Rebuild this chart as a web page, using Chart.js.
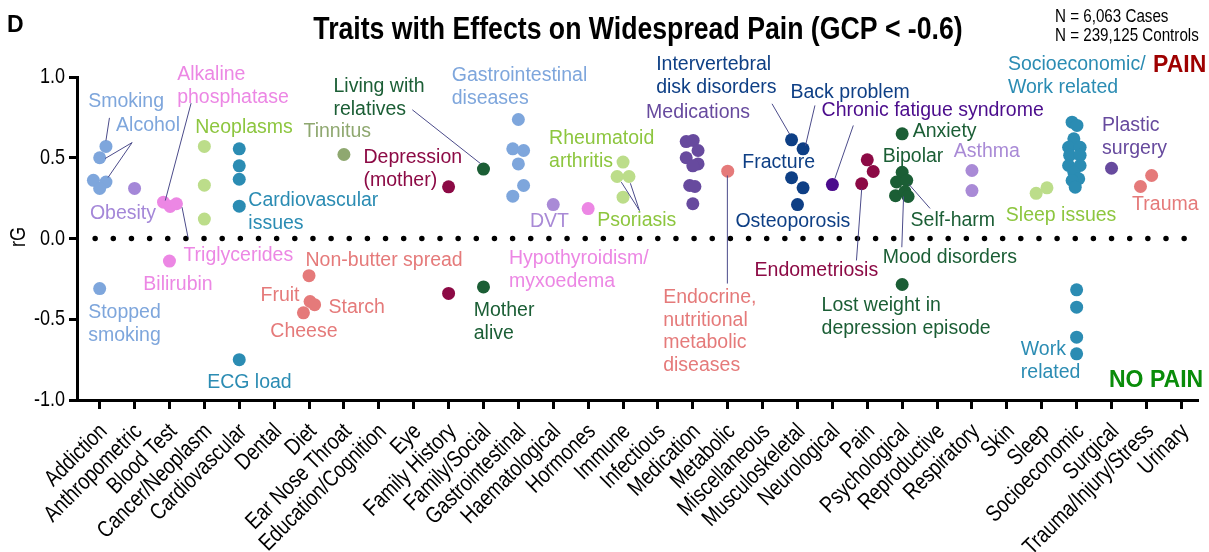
<!DOCTYPE html>
<html>
<head>
<meta charset="utf-8">
<script src="https://cdn.jsdelivr.net/npm/chart.js@4.4.1/dist/chart.umd.min.js"></script>
<style>
  html, body { margin: 0; padding: 0; background: #fff; }
  #wrap { width: 1209px; height: 552px; position: relative; }
</style>
</head>
<body>
<div id="wrap"><canvas id="chart"></canvas></div>
<script>
/* categories on the x axis */
var categories = [
  "Addiction", "Anthropometric", "Blood Test", "Cancer/Neoplasm", "Cardiovascular", "Dental",
  "Diet", "Ear Nose Throat", "Education/Cognition", "Eye", "Family History", "Family/Social",
  "Gastrointestinal", "Haematological", "Hormones", "Immune", "Infectious", "Medication",
  "Metabolic", "Miscellaneous", "Musculoskeletal", "Neurological", "Pain", "Psychological",
  "Reproductive", "Respiratory", "Skin", "Sleep", "Socioeconomic", "Surgical",
  "Trauma/Injury/Stress", "Urinary"
];
var yTicks = [-1, -0.5, 0, 0.5, 1];

/* rG values per category, and horizontal swarm offsets (category units) */
var rgAddiction = [0.57, 0.50, 0.36, 0.35, 0.31, -0.31];
var dxAddiction = [0.18, 0, -0.18, 0.18, 0, 0];
var rgAnthropometric = [0.31];
var rgBloodTest = [0.225, 0.198, 0.215, -0.14];
var dxBloodTest = [-0.17, 0.02, 0.2, 0];
var rgCancer = [0.57, 0.33, 0.12];
var rgCardiovascular = [0.555, 0.45, 0.367, 0.20, -0.75];
var rgDiet = [-0.23, -0.39, -0.41, -0.46];
var dxDiet = [0, 0.03, 0.16, -0.16];
var rgENT = [0.52];
var rgFamilyHistory = [0.32, -0.34];
var rgFamilySocial = [0.43, -0.30];
var rgGastro = [0.737, 0.555, 0.545, 0.462, 0.328, 0.262];
var dxGastro = [0, -0.16, 0.15, 0, 0.15, -0.16];
var rgHaematological = [0.21];
var rgHormones = [0.185];
var rgImmune = [0.473, 0.384, 0.384, 0.256];
var dxImmune = [0, -0.17, 0.17, 0];
var rgMedication = [0.60, 0.607, 0.545, 0.50, 0.462, 0.45, 0.328, 0.322, 0.215];
var dxMedication = [-0.19, 0.01, 0.15, -0.19, 0.15, 0, -0.09, 0.06, 0];
var rgMetabolic = [0.417];
var rgMusculoskeletal = [0.611, 0.555, 0.376, 0.314, 0.21];
var dxMusculoskeletal = [-0.17, 0.16, -0.17, 0.16, 0];
var rgNeurological = [0.334];
var rgPain = [0.487, 0.415, 0.339];
var dxPain = [0, 0.17, -0.16];
var rgPsychological = [0.648, 0.41, 0.35, 0.36, 0.265, 0.29, 0.26, -0.285];
var dxPsychological = [0, 0, -0.16, 0.13, -0.19, 0.08, 0.17, 0];
var rgRespiratory = [0.421, 0.297];
var rgSleep = [0.28, 0.314];
var dxSleep = [-0.16, 0.15];
var rgSocioeconomic = [0.72, 0.70, 0.617, 0.565, 0.565, 0.515, 0.515, 0.452, 0.452, 0.41, 0.37, 0.359, 0.318,
                       -0.318, -0.425, -0.611, -0.714];
var dxSocioeconomic = [-0.13, 0.01, -0.08, -0.23, 0.1, -0.2, 0.1, -0.23, 0.1, -0.08, 0.06, -0.13, -0.04,
                       0, 0, 0, 0];
var rgSurgical = [0.435];
var rgTrauma = [0.322, 0.39];
var dxTrauma = [-0.17, 0.15];

/* colours */
var C = {
  blue: "#7ea6dc", lav: "#a487d8", pink: "#ec87e4", lime: "#bcdd8a", limeTx: "#8dc63f",
  teal: "#2b8cb3", salmon: "#e57a7a", olive: "#8fa870", maroon: "#8c0a45", dgreen: "#1b5e35",
  lilac: "#a98ad6", purple: "#674a9e", navy: "#0e3f85", indigo: "#4b0c8c", lead: "#4b4b8a"
};

var series = [
  ["Addiction", rgAddiction, dxAddiction, C.blue],
  ["Anthropometric", rgAnthropometric, null, C.lav],
  ["Blood Test", rgBloodTest, dxBloodTest, C.pink],
  ["Cancer/Neoplasm", rgCancer, null, C.lime],
  ["Cardiovascular", rgCardiovascular, null, C.teal],
  ["Diet", rgDiet, dxDiet, C.salmon],
  ["Ear Nose Throat", rgENT, null, C.olive],
  ["Family History", rgFamilyHistory, null, C.maroon],
  ["Family/Social", rgFamilySocial, null, C.dgreen],
  ["Gastrointestinal", rgGastro, dxGastro, C.blue],
  ["Haematological", rgHaematological, null, C.lilac],
  ["Hormones", rgHormones, null, C.pink],
  ["Immune", rgImmune, dxImmune, C.lime],
  ["Medication", rgMedication, dxMedication, C.purple],
  ["Metabolic", rgMetabolic, null, C.salmon],
  ["Musculoskeletal", rgMusculoskeletal, dxMusculoskeletal, C.navy],
  ["Neurological", rgNeurological, null, C.indigo],
  ["Pain", rgPain, dxPain, C.maroon],
  ["Psychological", rgPsychological, dxPsychological, C.dgreen],
  ["Respiratory", rgRespiratory, null, C.lilac],
  ["Sleep", rgSleep, dxSleep, C.lime],
  ["Socioeconomic", rgSocioeconomic, dxSocioeconomic, C.teal],
  ["Surgical", rgSurgical, null, C.purple],
  ["Trauma/Injury/Stress", rgTrauma, dxTrauma, C.salmon]
];

/* trait labels: lines, left x (category units), first-line centre (rG units), colour */
var labels = [
  [["Smoking"], -0.33, 0.848, C.blue],
  [["Alcohol"], 0.47, 0.70, C.blue],
  [["Obesity"], -0.28, 0.155, C.lav],
  [["Stopped", "smoking"], -0.33, -0.458, C.blue],
  [["Alkaline", "phosphatase"], 2.22, 1.015, C.pink],
  [["Bilirubin"], 1.25, -0.285, C.pink],
  [["Triglycerides"], 2.40, -0.105, C.pink],
  [["Neoplasms"], 2.74, 0.687, C.limeTx],
  [["Cardiovascular", "issues"], 4.26, 0.235, C.teal],
  [["ECG load"], 3.08, -0.892, C.teal],
  [["Tinnitus"], 5.84, 0.663, C.olive],
  [["Depression", "(mother)"], 7.56, 0.502, C.maroon],
  [["Living with", "relatives"], 6.70, 0.941, C.dgreen],
  [["Gastrointestinal", "diseases"], 10.09, 1.009, C.blue],
  [["Non-butter spread"], 5.90, -0.136, C.salmon],
  [["Fruit"], 4.61, -0.353, C.salmon],
  [["Starch"], 6.56, -0.427, C.salmon],
  [["Cheese"], 4.89, -0.576, C.salmon],
  [["Mother", "alive"], 10.72, -0.446, C.dgreen],
  [["DVT"], 12.33, 0.105, C.lilac],
  [["Hypothyroidism/", "myxoedema"], 11.73, -0.127, C.pink],
  [["Rheumatoid", "arthritis"], 12.88, 0.619, C.limeTx],
  [["Psoriasis"], 14.26, 0.111, C.limeTx],
  [["Medications"], 15.66, 0.78, C.purple],
  [["Intervertebral", "disk disorders"], 15.95, 1.077, C.navy],
  [["Back problem"], 19.80, 0.904, C.navy],
  [["Chronic fatigue syndrome"], 20.69, 0.793, C.indigo],
  [["Fracture"], 18.42, 0.471, C.navy],
  [["Osteoporosis"], 18.22, 0.105, C.navy],
  [["Endocrine,", "nutritional", "metabolic", "diseases"], 16.15, -0.365, C.salmon],
  [["Endometriosis"], 18.77, -0.198, C.maroon],
  [["Anxiety"], 23.30, 0.663, C.dgreen],
  [["Bipolar"], 22.44, 0.508, C.dgreen],
  [["Self-harm"], 23.24, 0.111, C.dgreen],
  [["Mood disorders"], 22.44, -0.118, C.dgreen],
  [["Lost weight in", "depression episode"], 20.69, -0.415, C.dgreen],
  [["Asthma"], 24.48, 0.539, C.lilac],
  [["Sleep issues"], 25.97, 0.142, C.limeTx],
  [["Socioeconomic/", "Work related"], 26.03, 1.077, C.teal],
  [["Plastic", "surgery"], 28.73, 0.70, C.purple],
  [["Trauma"], 29.59, 0.211, C.salmon],
  [["Work", "related"], 26.40, -0.687, C.teal]
];

/* leader lines: x1, y1, x2, y2 in data units */
var leaders = [
  [0.28, 0.747, 0.18, 0.607],
  [0.93, 0.594, 0.155, 0.495],
  [0.93, 0.594, 0.24, 0.378],
  [2.62, 0.838, 1.88, 0.235],
  [2.53, 0.008, 2.36, 0.194],
  [8.96, 0.797, 10.92, 0.463],
  [15.47, 0.173, 14.95, 0.349],
  [15.47, 0.173, 15.21, 0.342],
  [19.27, 0.834, 19.78, 0.644],
  [20.50, 0.824, 20.23, 0.576],
  [21.60, 0.70, 21.07, 0.37],
  [21.69, -0.136, 21.84, 0.308],
  [17.99, 0.39, 17.99, -0.279],
  [23.80, 0.186, 23.20, 0.334],
  [22.99, -0.054, 23.04, 0.26]
];

var SANS = "'Liberation Sans', Arial, sans-serif";
var NARROW_X = 0.82; // condensed look of the original axis font

function narrowText(ctx, text, x, y, sx) {
  ctx.save();
  ctx.translate(x, y);
  ctx.scale(sx || NARROW_X, 1);
  ctx.fillText(text, 0, 0);
  ctx.restore();
}

var datasets = series.map(function(s) {
  var idx = categories.indexOf(s[0]);
  return {
    label: s[0],
    data: s[1].map(function(v, i) { return { x: idx + (s[2] ? s[2][i] : 0), y: v }; }),
    backgroundColor: s[3],
    borderWidth: 0,
    pointRadius: 6.5,
    pointHoverRadius: 6.5,
    order: 1
  };
});

/* dotted zero line */
datasets.push({
  type: "line",
  label: "zero",
  data: [{ x: -0.13, y: 0 }, { x: 31.14, y: 0 }],
  borderColor: "#000",
  borderWidth: 5.5,
  borderDash: [0, 18.15],
  borderCapStyle: "round",
  pointRadius: 0,
  order: 5
});

var annotate = {
  id: "annotate",
  afterDatasetsDraw: function(chart) {
    var ctx = chart.ctx, xs = chart.scales.x, ys = chart.scales.y;
    ctx.save();
    ctx.strokeStyle = C.lead;
    ctx.lineWidth = 1;
    leaders.forEach(function(l) {
      ctx.beginPath();
      ctx.moveTo(xs.getPixelForValue(l[0]), ys.getPixelForValue(l[1]));
      ctx.lineTo(xs.getPixelForValue(l[2]), ys.getPixelForValue(l[3]));
      ctx.stroke();
    });
    ctx.font = "19.5px " + SANS;
    ctx.textAlign = "left";
    ctx.textBaseline = "middle";
    labels.forEach(function(a) {
      ctx.fillStyle = a[3];
      var x = xs.getPixelForValue(a[1]), y = ys.getPixelForValue(a[2]);
      a[0].forEach(function(line, i) { ctx.fillText(line, x, y + i * 22.7); });
    });
    ctx.restore();
  },
  afterDraw: function(chart) {
    var ctx = chart.ctx, xs = chart.scales.x, ys = chart.scales.y;
    ctx.save();
    ctx.fillStyle = "#000";

    /* axis tick labels, condensed */
    ctx.font = "22px " + SANS;
    ctx.textAlign = "right";
    ctx.textBaseline = "middle";
    yTicks.forEach(function(v) {
      narrowText(ctx, v.toFixed(1), 65, ys.getPixelForValue(v));
    });
    ctx.font = "23px " + SANS;
    categories.forEach(function(c, i) {
      ctx.save();
      ctx.translate(xs.getPixelForValue(i) + 4, ys.bottom + 28);
      ctx.rotate(-Math.PI / 4);
      ctx.scale(NARROW_X, 1);
      ctx.fillText(c, 0, 0);
      ctx.restore();
    });

    ctx.textBaseline = "alphabetic";
    ctx.textAlign = "left";
    ctx.font = "bold 23px " + SANS;
    ctx.fillText("D", 7, 32);
    ctx.textAlign = "center";
    ctx.font = "bold 31px " + SANS;
    narrowText(ctx, "Traits with Effects on Widespread Pain (GCP < -0.6)", 638, 39, 0.86);
    ctx.textAlign = "left";
    ctx.font = "18.5px " + SANS;
    narrowText(ctx, "N = 6,063 Cases", 1055, 22);
    narrowText(ctx, "N = 239,125 Controls", 1055, 41);
    ctx.font = "bold 23px " + SANS;
    ctx.fillStyle = "#9e0000";
    ctx.fillText("PAIN", 1153, 72);
    ctx.fillStyle = "#0a8c0a";
    ctx.fillText("NO PAIN", 1109, 387);
    ctx.fillStyle = "#000";
    ctx.translate(19, 237);
    ctx.rotate(-Math.PI / 2);
    ctx.textAlign = "center";
    ctx.textBaseline = "middle";
    ctx.font = "22px " + SANS;
    narrowText(ctx, "rG", 0, 0);
    ctx.restore();
  }
};

new Chart(document.getElementById("chart"), {
  type: "scatter",
  data: { datasets: datasets },
  options: {
    responsive: true,
    maintainAspectRatio: false,
    animation: false,
    events: [],
    layout: { padding: { top: 77, right: 12, bottom: 0, left: 0 } },
    plugins: { legend: { display: false }, tooltip: { enabled: false } },
    scales: {
      x: {
        type: "linear",
        min: -0.65,
        max: 31.45,
        afterBuildTicks: function(scale) {
          scale.ticks = categories.map(function(c, i) { return { value: i }; });
        },
        afterFit: function(scale) { scale.height = 152; },
        grid: { display: true, drawOnChartArea: false, drawTicks: true, tickLength: 9, lineWidth: 3, color: "#000" },
        border: { display: true, color: "#000", width: 3 },
        ticks: { display: false }
      },
      y: {
        min: -1,
        max: 1,
        afterBuildTicks: function(scale) {
          scale.ticks = yTicks.map(function(v) { return { value: v }; });
        },
        afterFit: function(scale) { scale.width = 77; },
        grid: { display: true, drawOnChartArea: false, drawTicks: true, tickLength: 8, lineWidth: 3, color: "#000" },
        border: { display: true, color: "#000", width: 3 },
        ticks: { display: false }
      }
    }
  },
  plugins: [annotate]
});
</script>
</body>
</html>
